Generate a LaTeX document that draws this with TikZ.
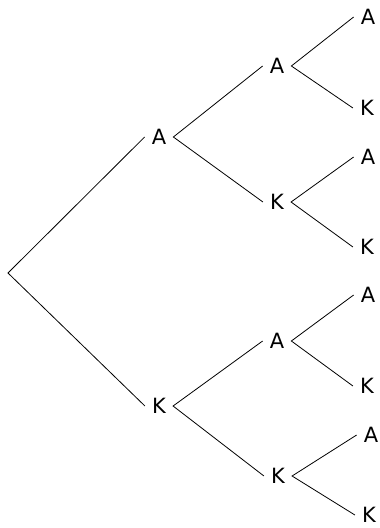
\documentclass[tikz,border=0pt]{standalone}
\usepackage{fontspec}
\setmainfont{DejaVu Sans}
\usepackage{tikz}

\begin{document}
\begin{tikzpicture}[x=1pt,y=-1pt,
  every node/.style={inner xsep=7pt,inner ysep=0pt,font=\fontsize{21}{24}\selectfont},
  branch/.style={line width=0.8pt}]
\useasboundingbox (0,0) rectangle (380,528);
\coordinate (r) at (8,273);
% first throw
\node (a) at (159,137) {A};
\node (k) at (159,406) {K};
% second throw
\node (aa) at (277,66) {A};
\node (ak) at (277,202) {K};
\node (ka) at (277,341) {A};
\node (kk) at (278,476) {K};
% third throw
\node (aaa) at (368,17) {A};
\node (aak) at (367,108) {K};
\node (aka) at (368,157) {A};
\node (akk) at (367,247) {K};
\node (kaa) at (368,295) {A};
\node (kak) at (367,386) {K};
\node (kka) at (371,435) {A};
\node (kkk) at (369,515) {K};
\draw[branch] (a.west) -- (r) -- (k.west);
\foreach \p in {a,k}
  \draw[branch] (\p a.west) -- (\p.east) -- (\p k.west);
\foreach \p in {aa,ak,ka,kk}
  \draw[branch] (\p a.west) -- (\p.east) -- (\p k.west);
\end{tikzpicture}
\end{document}
